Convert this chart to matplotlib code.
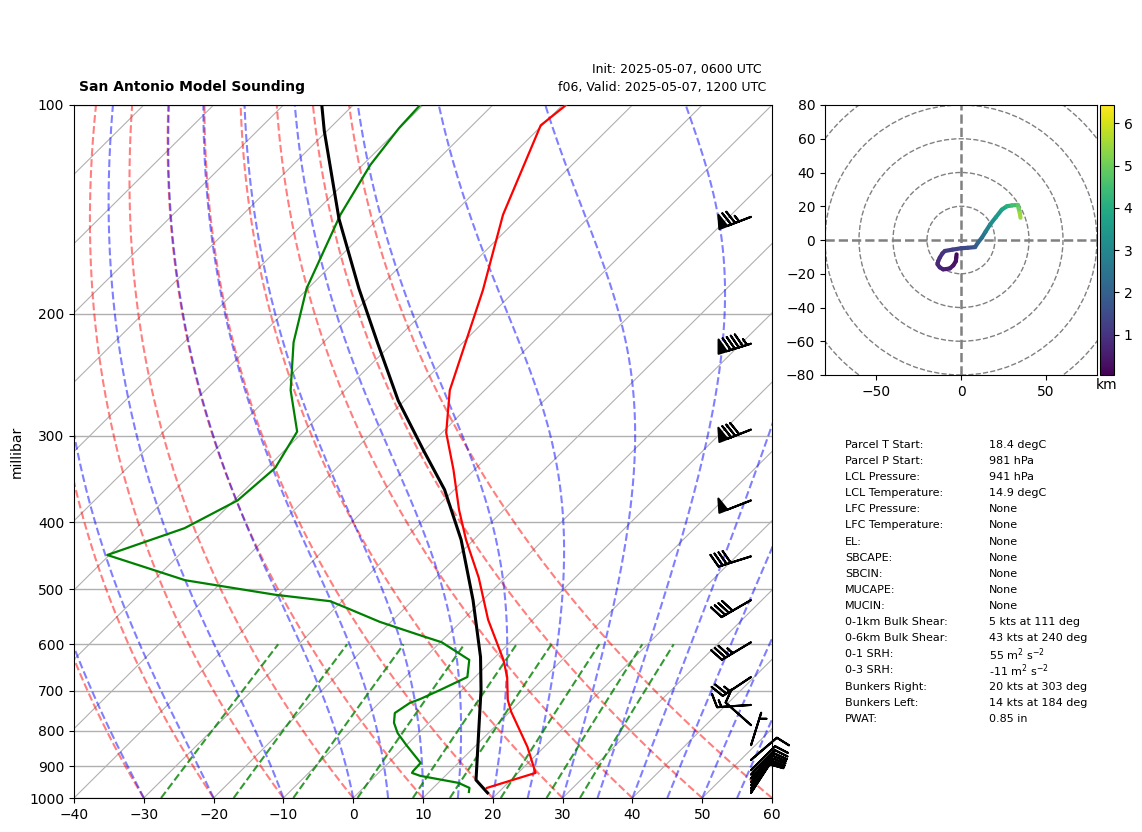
import numpy as np
import matplotlib
matplotlib.use('Agg')
import matplotlib.pyplot as plt
from matplotlib.collections import LineCollection
from matplotlib.patches import Circle
from matplotlib.ticker import ScalarFormatter, NullLocator

# sounding
p_temp = [967, 920, 844, 751, 722, 669, 632, 553, 481, 424, 384, 336, 297, 258, 185, 144, 107, 100]
temp = [17.7, 22.5, 17.6, 10.2, 8.0, 4.6, 1.6, -6.4, -13.8, -21.1, -26.4, -33.0, -39.4, -45.0, -54.7, -62.7, -70.2, -69.5]

p_dew = [980, 967, 951, 929, 920, 914, 890, 839, 806, 779, 754, 729, 720, 698, 669, 632, 596, 582, 557, 532,
         520, 509, 485, 446, 408, 372, 334, 296, 258, 220, 184, 144, 122, 108, 100]
dew = [15.7, 15.2, 12.9, 6.4, 4.8, 4.7, 4.6, 0.0, -3.0, -5.0, -6.3, -5.6, -4.7, -3.1, -1.1, -3.3, -9.8, -14.0, -21.6, -28.3,
       -31.7, -40.5, -55.5, -70.3, -63.1, -59.5, -58.8, -60.9, -67.8, -74.3, -80.2, -86.0, -88.9, -90.1, -90.4]

p_parcel = [983, 942, 806, 698, 626, 518, 424, 359, 315, 267, 220, 184, 146, 109, 100]
parcel = [18.5, 15.0, 8.6, 2.7, -2.1, -11.4, -21.8, -31.4, -40.1, -50.9, -62.3, -72.7, -85.6, -100.4, -104.5]

# wind barbs
p_barb = [145, 221, 294, 372, 448, 518, 596, 669, 734, 785, 839, 881, 912, 925, 937, 948, 958, 968, 976, 983]
u_barb = [70, 90, 74, 46, 38, 34.5, 30, 21, 15, 9, -1.5, -7, -8, -8, -7.8, -7.5, -7.2, -7, -6.8, -6.5]
v_barb = [27, 28, 29, 18, 12, 20, 18, 14, 1, -8, -4.8, -6, -8, -8.3, -8.6, -9, -9.2, -9.5, -9.8, -10]

# hodograph
hodo_u = [-2.6, -2.8, -3, -4.5, -6.5, -8.5, -10.5, -12.5, -13.8, -13.4, -12.5, -11, -9.5, -5, 0, 4, 8.3, 10, 12.3, 14.5,
          17.2, 20.5, 24, 27, 30, 33.4, 34, 34.6, 35]
hodo_v = [-8.5, -10.5, -12.5, -15, -16.8, -17.2, -17.4, -16.2, -14.4, -12.5, -10.5, -8, -6.5, -5.7, -4.9, -4.6, -4.2, -1.5, 1.4, 5,
          9.3, 13.5, 18, 20, 20.5, 20.8, 18.5, 16, 13.2]
hodo_h = [0.05, 0.15, 0.25, 0.32, 0.4, 0.48, 0.55, 0.62, 0.7, 0.76, 0.82, 0.9, 0.98, 1.1, 1.25, 1.4, 1.55, 1.85, 2.2, 2.5,
          2.8, 3.15, 3.5, 3.8, 4.1, 4.5, 4.8, 5.1, 5.5]

# background lines
dry_t0 = np.arange(-40, 61, 10)
moist_t0 = [-30, -20, -10, 0, 5, 10, 15, 20, 25, 30, 35, 40, 45, 50, 55]
mix_w = [0.0004, 0.001, 0.002, 0.004, 0.007, 0.01, 0.016, 0.024, 0.032]
isotherms = np.arange(-150, 61, 10)

labels = ['Parcel T Start:', 'Parcel P Start:', 'LCL Pressure:', 'LCL Temperature:', 'LFC Pressure:',
          'LFC Temperature:', 'EL:', 'SBCAPE:', 'SBCIN:', 'MUCAPE:', 'MUCIN:', '0-1km Bulk Shear:',
          '0-6km Bulk Shear:', '0-1 SRH:', '0-3 SRH:', 'Bunkers Right:', 'Bunkers Left:', 'PWAT:']
values = ['18.4 degC', '981 hPa', '941 hPa', '14.9 degC', 'None', 'None', 'None', 'None', 'None', 'None', 'None',
          '5 kts at 111 deg', '43 kts at 240 deg', r'55 m$^2$ s$^{-2}$', r'-11 m$^2$ s$^{-2}$',
          '20 kts at 303 deg', '14 kts at 184 deg', '0.85 in']

SKEW = 100.0  # degC per decade of pressure
W, H = 1142, 832


def skew(t, p):
    return np.asarray(t) + SKEW * np.log10(1000.0 / np.asarray(p, dtype=float))


def moist_profile(t0, pres):
    # step the saturated lapse rate up from 1000 hPa
    def rate(t, p):
        es = 6.112 * np.exp(17.67 * (t - 273.15) / (t - 29.65))
        rs = 0.622 * es / (p - es)
        return (287.0 * t + 2.5e6 * rs) / (1005.0 + 2.5e6 ** 2 * rs * 0.622 / (287.0 * t ** 2))
    out = [t0 + 273.15]
    for p0, p1 in zip(pres[:-1], pres[1:]):
        t = out[-1]
        dlnp = np.log(p1 / p0)
        mid = t + 0.5 * dlnp * rate(t, p0)
        out.append(t + dlnp * rate(mid, np.sqrt(p0 * p1)))
    return np.array(out) - 273.15


fig = plt.figure(figsize=(W / 100, H / 100), dpi=100)
ax = fig.add_axes([74 / W, 1 - 798 / H, 698 / W, 693 / H])
ax.set_yscale('log')

pres = np.linspace(1000, 100, 400)
for t in isotherms:
    ax.plot(skew([t, t], [1000, 100]), [1000, 100], color='#b0b0b0', lw=0.8, zorder=1)
for t in dry_t0:
    ax.plot(skew((t + 273.15) * (pres / 1000) ** 0.2857 - 273.15, pres), pres, color='r', alpha=0.5, ls='--', lw=1.5, zorder=2)
for t in moist_t0:
    ax.plot(skew(moist_profile(t, pres), pres), pres, color='b', alpha=0.5, ls='--', lw=1.5, zorder=2)
pres_w = np.linspace(1000, 600, 50)
for w in mix_w:
    lne = np.log(pres_w * w / (0.622 + w) / 6.112)
    ax.plot(skew(243.5 * lne / (17.67 - lne), pres_w), pres_w, color='g', alpha=0.8, ls='--', lw=1.5, zorder=2)

ax.plot(skew(temp, p_temp), p_temp, color='r', lw=1.6, zorder=3)
ax.plot(skew(dew, p_dew), p_dew, color='g', lw=1.6, zorder=3)
ax.plot(skew(parcel, p_parcel), p_parcel, color='k', lw=2.2, zorder=3)
ax.barbs(np.full(len(p_barb), 57.0), p_barb, u_barb, v_barb, length=7, color='k', linewidth=1.5, clip_on=False, zorder=4)

ax.set_xlim(-40, 60)
ax.set_ylim(1000, 100)
ax.set_yticks(range(100, 1001, 100))
ax.yaxis.set_major_formatter(ScalarFormatter())
ax.yaxis.set_minor_locator(NullLocator())
ax.set_xticks(range(-40, 61, 10))
ax.grid(axis='y', color='#b0b0b0', lw=1)
ax.set_axisbelow(True)
ax.set_ylabel('millibar')
ax.tick_params(labelsize=10)

fig.text(79 / W, 1 - 87 / H, 'San Antonio Model Sounding', fontsize=10, fontweight='bold', va='center')
fig.text(762 / W, 1 - 70 / H, 'Init: 2025-05-07, 0600 UTC', fontsize=9, ha='right', va='center')
fig.text(766 / W, 1 - 88 / H, 'f06, Valid: 2025-05-07, 1200 UTC', fontsize=9, ha='right', va='center')

# hodograph
hax = fig.add_axes([825 / W, 1 - 375 / H, 272 / W, 270 / H])
for r in [20, 40, 60, 80, 100]:
    hax.add_patch(Circle((0, 0), r, fill=False, ec='gray', ls='--', lw=1.0))
hax.axhline(0, color='gray', ls='--', lw=1.8)
hax.axvline(0, color='gray', ls='--', lw=1.8)
pts = np.column_stack([hodo_u, hodo_v])
segs = np.stack([pts[:-1], pts[1:]], axis=1)
lc = LineCollection(segs, cmap='viridis', linewidths=3, capstyle='round')
lc.set_array(np.array(hodo_h[1:]))
lc.set_clim(0.05, 6.43)
hax.add_collection(lc)
hax.set_xlim(-80, 80)
hax.set_ylim(-80, 80)
hax.set_xticks([-50, 0, 50])
hax.set_yticks(range(-80, 81, 20))

cax = fig.add_axes([1100 / W, 1 - 375 / H, 14 / W, 270 / H])
cb = fig.colorbar(lc, cax=cax)
cb.set_ticks([1, 2, 3, 4, 5, 6])
cax.text(0.45, -0.038, 'km', transform=cax.transAxes, ha='center', va='center', fontsize=10)

for i, (a, b) in enumerate(zip(labels, values)):
    y = 1 - (445 + i * 16.1) / H
    fig.text(845 / W, y, a, fontsize=8, va='center')
    fig.text(989 / W, y, b, fontsize=8, va='center')

fig.savefig('out.png', dpi=100)
